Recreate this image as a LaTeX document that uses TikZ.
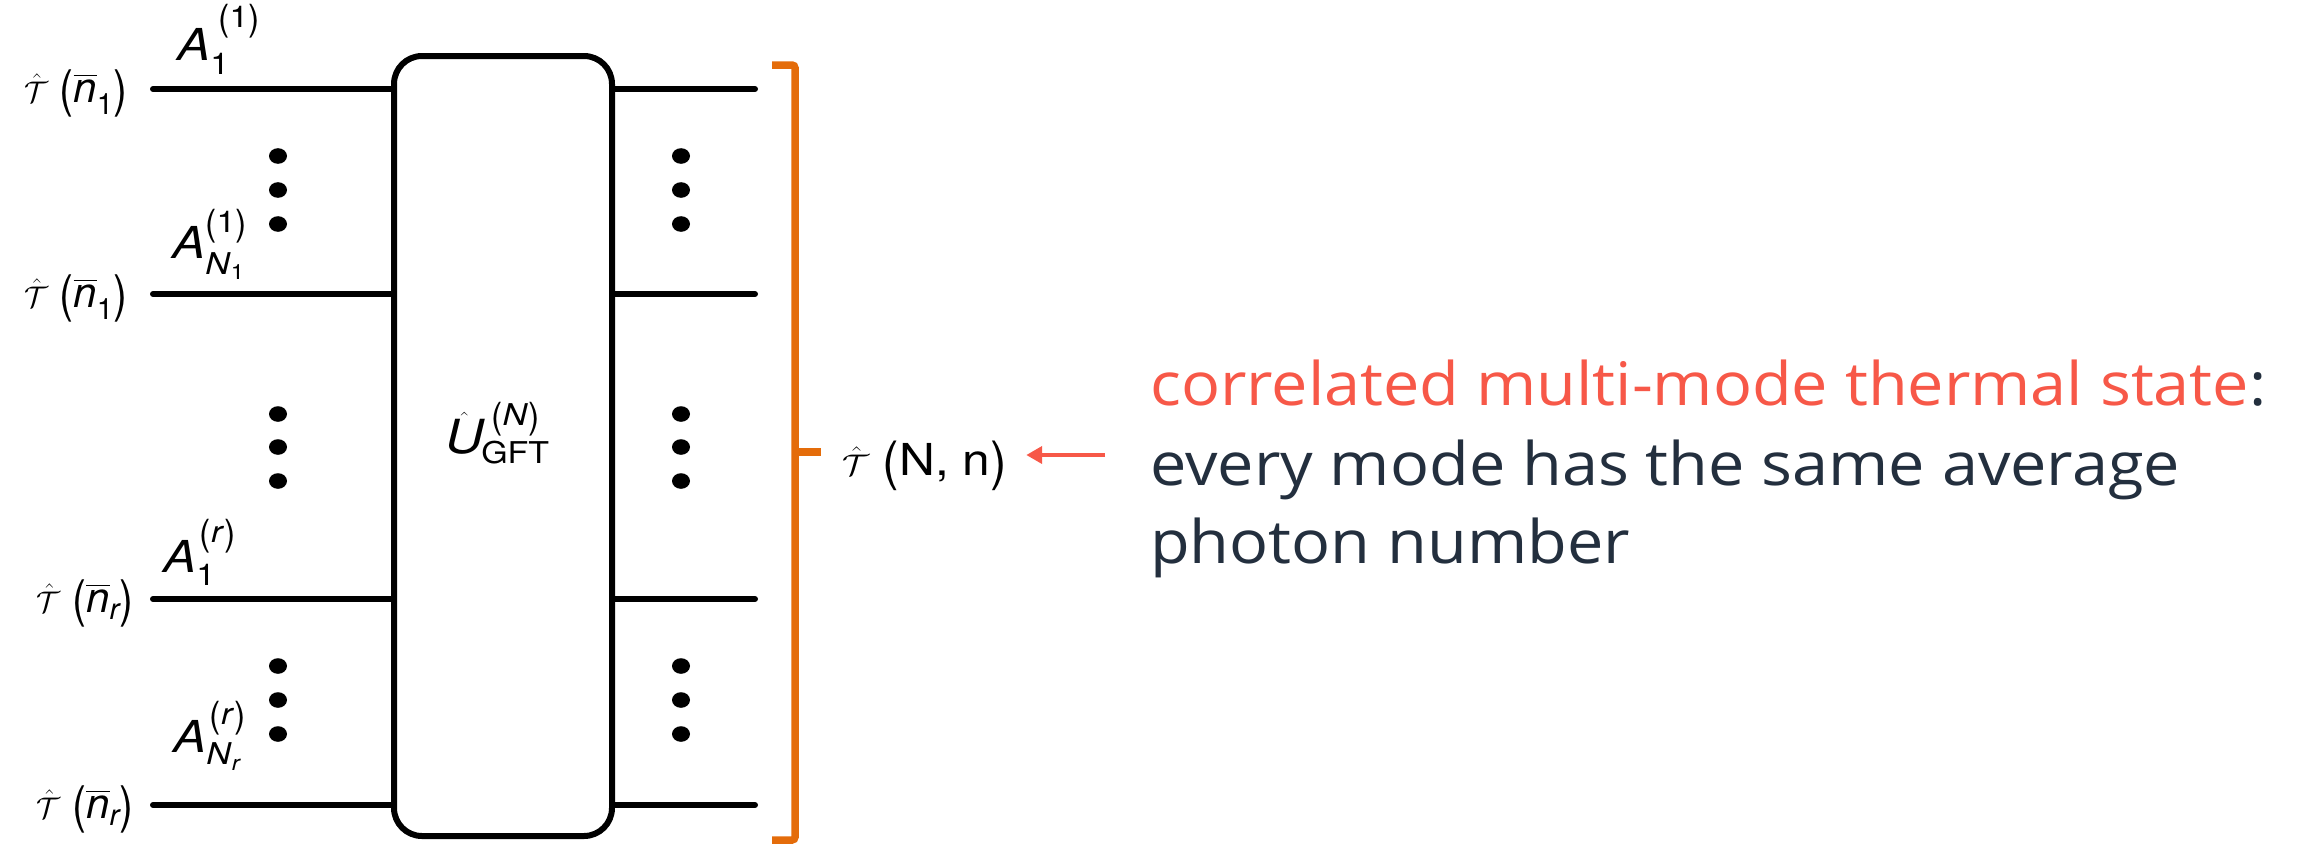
\documentclass[tikz,border=0pt]{standalone}
\usepackage{amsmath}
\usepackage{graphicx}
\usepackage{fontspec}
\setmainfont{TeX Gyre Heros}
\newfontfamily\ofont[FakeStretch=1.08]{Open Sans}
\usetikzlibrary{arrows.meta}
\definecolor{brk}{RGB}{228,108,10}
\definecolor{redt}{RGB}{247,88,72}
\definecolor{ink}{HTML}{232F3E}
\newcommand\Tc{\scalebox{1.2}{$\hat{\mathcal{T}}$}}
\newcommand\nb[1]{$\overline{\text{\itshape n}}_{\text{#1}}$}
\newcommand\tpar[1]{\raisebox{-0.1em}{\scalebox{1}[1.2]{#1}}}
\newcommand\hs[1]{\scalebox{1.13}[1]{#1}}
\newcommand\scr[1]{{\fontsize{30}{36}\selectfont #1}}
\newcommand\sscr[1]{{\fontsize{21}{25}\selectfont #1}}
% A label: #1 sub, #2 sup, #3 sub drop, #4 sup raise, #5 sup kern
\newcommand\Alab[5]{\textit{A}\rlap{\raisebox{-#3pt}{\scr{#1}}}\kern#5pt\raisebox{#4pt}{\scr{#2}}}
\begin{document}
\begin{tikzpicture}[x=1pt,y=-1pt,
  wire/.style={line width=6pt, line cap=round},
  lab/.style={font=\fontsize{42}{50}\selectfont, inner sep=0pt, anchor=base east},
  alab/.style={font=\fontsize{44}{52}\selectfont, inner sep=0pt, anchor=base west},
  rtext/.style={font=\ofont\fontsize{60}{72}\selectfont, inner sep=0pt, anchor=base west, text=ink},
  brkline/.style={draw=brk, line width=7.5pt, rounded corners=3pt},
  vdot/.style={fill=black}]
\useasboundingbox (0,0) rectangle (2302,844);
% central box
\node[draw, line width=6pt, rounded corners=28pt, minimum width=218pt, minimum height=780pt, inner sep=0pt] (box) at (503,446) {};
\node[font=\fontsize{47}{54}\selectfont, inner sep=0pt, anchor=base west] (ugft) at (445,453)
  {\hs{$\hat{\text{\itshape U}}$\rlap{\kern-2pt\raisebox{-10pt}{\fontsize{30}{34}\selectfont GFT}}\kern7pt\raisebox{28pt}{\scr{\tpar{(}\textit{N}\tpar{)}}}}};
% input and output wires
\foreach \n/\y in {1/89,2/294,3/599,4/805}{
  \coordinate (i\n) at (153,\y);
  \coordinate (o\n) at (755,\y);
  \draw[wire] (i\n) -- (i\n -| box.west);
  \draw[wire] (box.east |- o\n) -- (o\n);
}
% left labels
\node[lab] (l1) at (128,102) {\Tc\ \tpar{(}\nb{1}\tpar{)}};
\node[lab] (l2) at (128,307) {\Tc\ \tpar{(}\nb{1}\tpar{)}};
\node[lab] (l3) at (134,612) {\Tc\ \tpar{(}\nb{\itshape r}\tpar{)}};
\node[lab] (l4) at (134,818) {\Tc\ \tpar{(}\nb{\itshape r}\tpar{)}};
% A labels
\node[alab] (a1) at (177,60) {\hs{\Alab{1}{\tpar{(}1\tpar{)}}{14}{33}{7}}};
\node[alab] (a2) at (172,258) {\hs{\Alab{\textit{N}\raisebox{-5pt}{\sscr{1}}}{\tpar{(}1\tpar{)}}{16}{26}{0}}};
\node[alab] (a3) at (163,572) {\hs{\Alab{1}{\tpar{(}\textit{r}\tpar{)}}{13}{30}{3}}};
\node[alab] (a4) at (173,752) {\hs{\Alab{\textit{N}\raisebox{-6pt}{\sscr{\textit{r}}}}{\tpar{(}\textit{r}\tpar{)}}{12}{28}{3}}};
% dots
\foreach \x in {278,681}{
  \foreach \y in {156,190,224,414,447,481,666,700,734}{
    \fill[vdot] (\x,\y) ellipse [x radius=9, y radius=7.8];
  }
}
% bracket
\coordinate (bt) at (795,65);
\coordinate (bb) at (795,840);
\coordinate (bm) at (795,452);
\coordinate (tip) at (821,452);
\draw[brkline] (772,65) -- (bt) -- (bb) -- (772,840);
\draw[brkline] (bm) -- (tip);
% output label
\node[font=\fontsize{44}{52}\selectfont, inner sep=0pt, anchor=base west] (tnn) at (842,475)
  {\hs{\Tc\ \tpar{(}N, n\tpar{)}}};
% arrow
\coordinate (as) at (1105,455);
\draw[redt, line width=4.5pt, -{Triangle[length=16pt,width=17pt]}, shorten >=19pt] (as) -- (tnn.east |- as);
% right text
\node[rtext, text=redt] (t1) at (1150,405) {correlated multi-mode thermal state\textcolor{ink}{:}};
\node[rtext] (t2) at (1150,485) {every mode has the same average};
\node[rtext] (t3) at (1150,563) {photon number};
\end{tikzpicture}
\end{document}
